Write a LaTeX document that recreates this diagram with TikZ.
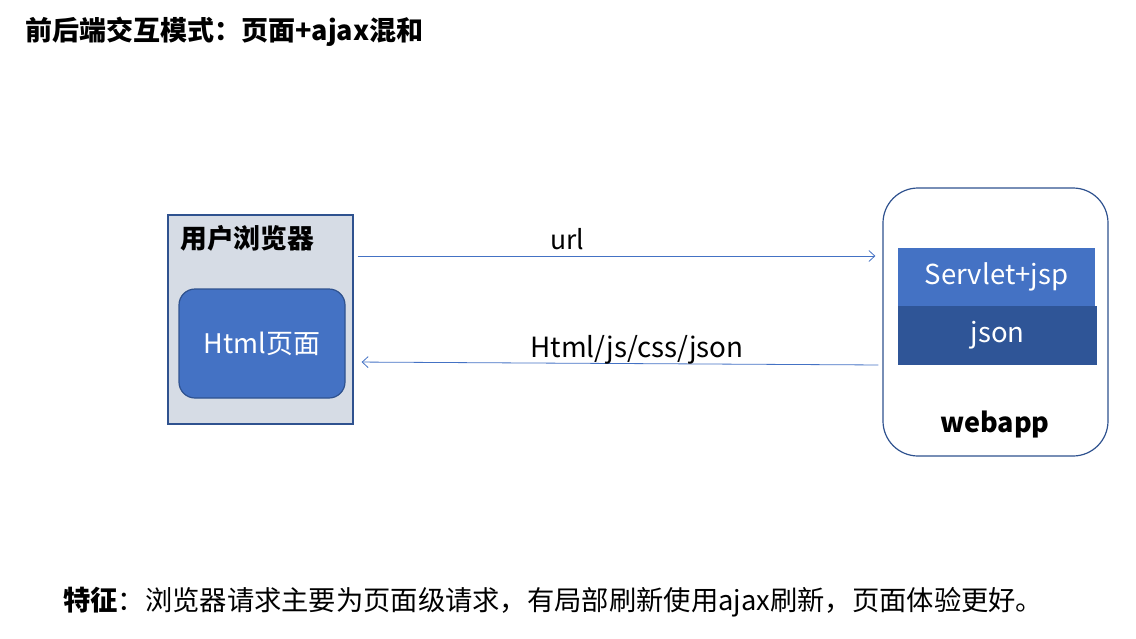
\documentclass[tikz,border=0pt]{standalone}
\usepackage{fontspec}
\setmainfont{Noto Sans CJK SC}
\usepackage{xcolor}
\usepackage{tikz}
\usetikzlibrary{arrows.meta,positioning}
\definecolor{wpblue}{HTML}{4472C4}
\definecolor{wpdark}{HTML}{2F5597}
\definecolor{wpedge}{HTML}{2F528F}
\definecolor{wpgray}{HTML}{D6DCE5}
\tikzset{
    frame/.style={
        rectangle, draw=wpedge, line width=1.2pt,
        fill=wpgray
    },
    page/.style={
        rectangle, rounded corners=16pt,
        draw=wpedge, line width=1.2pt, fill=wpblue,
        text=white, font=\fontsize{27}{31}\selectfont
    },
    server/.style={
        rectangle, rounded corners=35pt,
        draw=wpedge, line width=1.2pt, fill=white
    },
    layer/.style={
        rectangle, inner sep=0pt,
        text=white, font=\fontsize{27.5}{31}\selectfont
    },
    flow/.style={-{Straight Barb[length=6pt,width=11pt]}, line width=0.8pt, color=wpblue},
    tag/.style={font=\fontsize{26.5}{30}\selectfont, inner sep=0pt},
}

\begin{document}
\begin{tikzpicture}[x=1pt,y=-1pt]
    \useasboundingbox (0,0) rectangle (1136,638);

    % Title
    \node[anchor=west, inner sep=0pt, font=\fontsize{27}{31}\selectfont\bfseries] (title)
        at (25,32) {前后端交互模式：页面+ajax混和};

    % Browser side
    \node[frame, minimum width=185pt, minimum height=209pt] (browser) at (260.5,319.5) {};
    \node[tag, anchor=west, font=\fontsize{26.8}{30}\selectfont\bfseries] (browsertag)
        at (180,238) {用户浏览器};
    \node[page, minimum width=166pt, minimum height=109pt] (html) at (262,343.5) {Html页面};

    % Server side
    \node[server, minimum width=225pt, minimum height=268pt] (webapp) at (995.5,322) {};
    \node[layer, fill=wpblue, minimum width=197pt, minimum height=58pt] (servlet)
        at (996.5,277) {Servlet+jsp};
    \node[layer, fill=wpdark, minimum width=199pt, minimum height=59pt] (json)
        at (997.5,335.5) {json};
    \node[tag, font=\fontsize{27}{31}\selectfont\bfseries] (webapptag) at (995,424) {webapp};

    % Arrows
    \draw[flow, shorten <=4pt, shorten >=7pt]
        ([yshift=63.5pt]browser.east) -- ([yshift=66pt]webapp.west);
    \draw[flow, shorten <=4pt, shorten >=8pt]
        ([yshift=-43pt]webapp.west) -- ([yshift=-42.5pt]browser.east);

    % Arrow labels
    \node[tag] (urltag) at (567,239) {url};
    \node[tag, font=\fontsize{27.8}{31}\selectfont] (restag) at (637,350) {Html/js/css/json};

    % Note
    \node[anchor=west, inner sep=0pt, font=\fontsize{27.3}{31}\selectfont] (note)
        at (63,602) {\textbf{特征}：浏览器请求主要为页面级请求，有局部刷新使用ajax刷新，页面体验更好。};

\end{tikzpicture}
\end{document}
